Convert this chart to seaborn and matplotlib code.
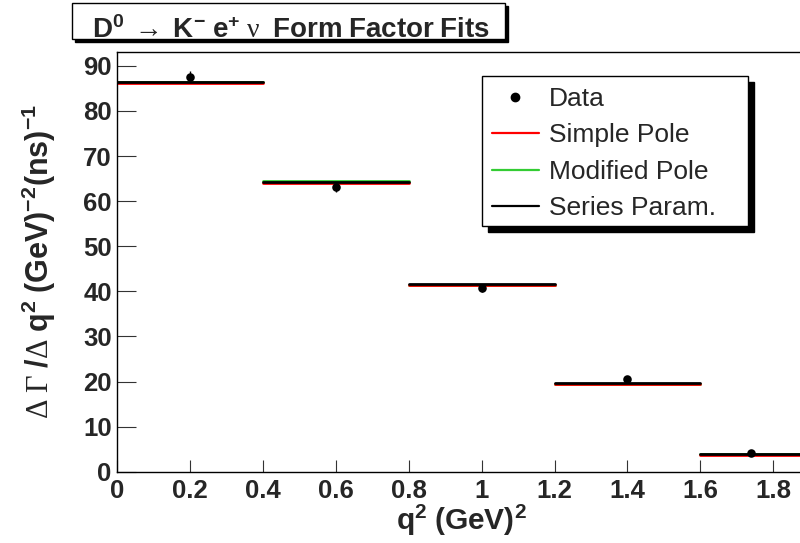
import matplotlib
matplotlib.use("Agg")
import matplotlib.pyplot as plt
from matplotlib.lines import Line2D
from matplotlib.patches import Rectangle
from matplotlib.ticker import MultipleLocator
import numpy as np
import pandas as pd
import seaborn as sns

# ---------------- data ----------------
bin_lo = [0.0, 0.4, 0.8, 1.2, 1.6]
bin_hi = [0.4, 0.8, 1.2, 1.6, 2.0]
data_x = [0.2, 0.6, 1.0, 1.4, 1.738]
data_y = [87.6, 63.1, 40.8, 20.5, 4.2]
data_err = [1.3, 1.1, 0.9, 0.7, 0.4]
simple_pole = [86.2, 64.0, 41.4, 19.4, 3.8]
modified_pole = [86.3, 64.4, 41.5, 19.5, 3.85]
series_param = [86.3, 64.2, 41.6, 19.6, 3.9]
models = ["Simple Pole", "Modified Pole", "Series Param."]
model_colors = ["#ff0000", "#33cc33", "#000000"]
draw_order = ["Modified Pole", "Simple Pole", "Series Param."]
y_ticks = [0, 10, 20, 30, 40, 50, 60, 70, 80, 90]
x_ticks = [0, 0.2, 0.4, 0.6, 0.8, 1, 1.2, 1.4, 1.6, 1.8]
x_tick_labels = ["0", "0.2", "0.4", "0.6", "0.8", "1", "1.2", "1.4", "1.6", "1.8"]

sns.set_style("white")
plt.rcParams["font.family"] = ["Liberation Sans", "DejaVu Sans"]
plt.rcParams["mathtext.fontset"] = "custom"
plt.rcParams["mathtext.rm"] = "Liberation Serif"
plt.rcParams["mathtext.bf"] = "Liberation Sans:bold"
plt.rcParams["mathtext.sf"] = "Liberation Sans"
plt.rcParams["mathtext.it"] = "Liberation Serif:italic"

W, H = 800, 543
fig = plt.figure(figsize=(W / 100, H / 100), dpi=100)

def fx(px):
    return px / W

def fy(py):
    return 1 - py / H

ax_w = 2 * 364.4
ax = fig.add_axes([fx(117.3), fy(471.7), ax_w / W, (471.7 - 52) / H])

# fit segments as a long table
rows = []
for m, vals in zip(models, [simple_pole, modified_pole, series_param]):
    for i, (lo, hi, v) in enumerate(zip(bin_lo, bin_hi, vals)):
        rows.append({"model": m, "bin": i, "q2": lo, "rate": v})
        rows.append({"model": m, "bin": i, "q2": hi, "rate": v})
fits = pd.DataFrame(rows)

sns.lineplot(data=fits, x="q2", y="rate", hue="model", units="bin",
             estimator=None, palette=dict(zip(models, model_colors)),
             hue_order=draw_order, linewidth=2.0, legend=False, ax=ax,
             sort=False)

pts = pd.DataFrame({"q2": data_x, "rate": data_y, "err": data_err})
ax.errorbar(pts["q2"], pts["rate"], yerr=pts["err"], fmt="none",
            ecolor="black", elinewidth=1.0, capsize=0, zorder=4)
sns.scatterplot(data=pts, x="q2", y="rate", color="black", s=38,
                linewidth=0, zorder=5, ax=ax, legend=False)

ax.set_xlim(0, 2.0)
ax.set_ylim(0, (471.7 - 52) / 4.51)
ax.set_xticks(x_ticks)
ax.set_xticklabels(x_tick_labels)
ax.set_yticks(y_ticks)
ax.xaxis.set_minor_locator(MultipleLocator(0.05))
ax.yaxis.set_minor_locator(MultipleLocator(2))
ax.tick_params(axis="x", which="major", direction="in", length=8.6, width=0.8,
               color="#333333", labelsize=18.5, pad=5)
ax.tick_params(axis="x", which="minor", direction="in", length=4.3, width=0.8,
               color="#333333")
ax.tick_params(axis="y", which="major", direction="in", length=13.4, width=0.8,
               color="#333333", labelsize=18.5, pad=4)
ax.tick_params(axis="y", which="minor", direction="in", length=6.7, width=0.8,
               color="#333333")
ax.tick_params(bottom=True, left=True, top=False, right=False)
for lab in ax.get_xticklabels() + ax.get_yticklabels():
    lab.set_fontweight("bold")
for s in ax.spines.values():
    s.set_color("black")
    s.set_linewidth(1.0)

ax.set_xlabel(r"$\mathbf{q^{2}\ (GeV)^{2}}$", fontsize=21.5)
ax.xaxis.set_label_coords((461 - 117.3) / ax_w, -0.075)
ax.set_ylabel(r"$\mathrm{\Delta\ \Gamma\ }\mathbf{/}\mathrm{\Delta}\ \mathbf{q^{2}\ (GeV)^{-2}(ns)^{-1}}$",
              fontsize=22, labelpad=18)

# title box with shadow
tx0, tx1, tt, tb = 72.3, 505.0, 3.3, 39.3
fig.patches.append(Rectangle((fx(tx0 + 3), fy(tb + 3)), fx(tx1 - tx0), (tb - tt) / H,
                             transform=fig.transFigure, facecolor="black",
                             edgecolor="black", zorder=1))
fig.patches.append(Rectangle((fx(tx0), fy(tb)), fx(tx1 - tx0), (tb - tt) / H,
                             transform=fig.transFigure, facecolor="white",
                             edgecolor="black", linewidth=1.0, zorder=2))
fig.text(fx(291), fy(38.0),
         r"$\mathbf{D^{0}}\ \mathrm{\rightarrow}\ \mathbf{K^{-}}\ \mathbf{e^{+}}\ \mathrm{\nu}\ \ \mathbf{Form\ Factor\ Fits}$",
         ha="center", va="baseline", fontsize=20, zorder=3)

# legend box with shadow
lx0, lx1, lt, lb = 482.3, 748.3, 76.0, 226.0
fig.patches.append(Rectangle((fx(lx0 + 5.5), fy(lb + 5.5)), fx(lx1 - lx0), (lb - lt) / H,
                             transform=fig.transFigure, facecolor="black",
                             edgecolor="black", zorder=1))
fig.patches.append(Rectangle((fx(lx0), fy(lb)), fx(lx1 - lx0), (lb - lt) / H,
                             transform=fig.transFigure, facecolor="white",
                             edgecolor="black", linewidth=1.0, zorder=2))
handles = [Line2D([], [], marker="o", ls="none", color="black", markersize=6)]
handles += [Line2D([], [], color=c, linewidth=1.6) for c in model_colors]
labels = ["Data"] + models
leg = fig.legend(handles, labels, loc="upper left",
                 bbox_to_anchor=(fx(491.7), fy(87)), bbox_transform=fig.transFigure,
                 frameon=False, fontsize=19, borderpad=0, borderaxespad=0,
                 handlelength=1.78, handletextpad=0.38, labelspacing=0.47)
leg.set_zorder(3)

fig.savefig("out.png", dpi=100)
